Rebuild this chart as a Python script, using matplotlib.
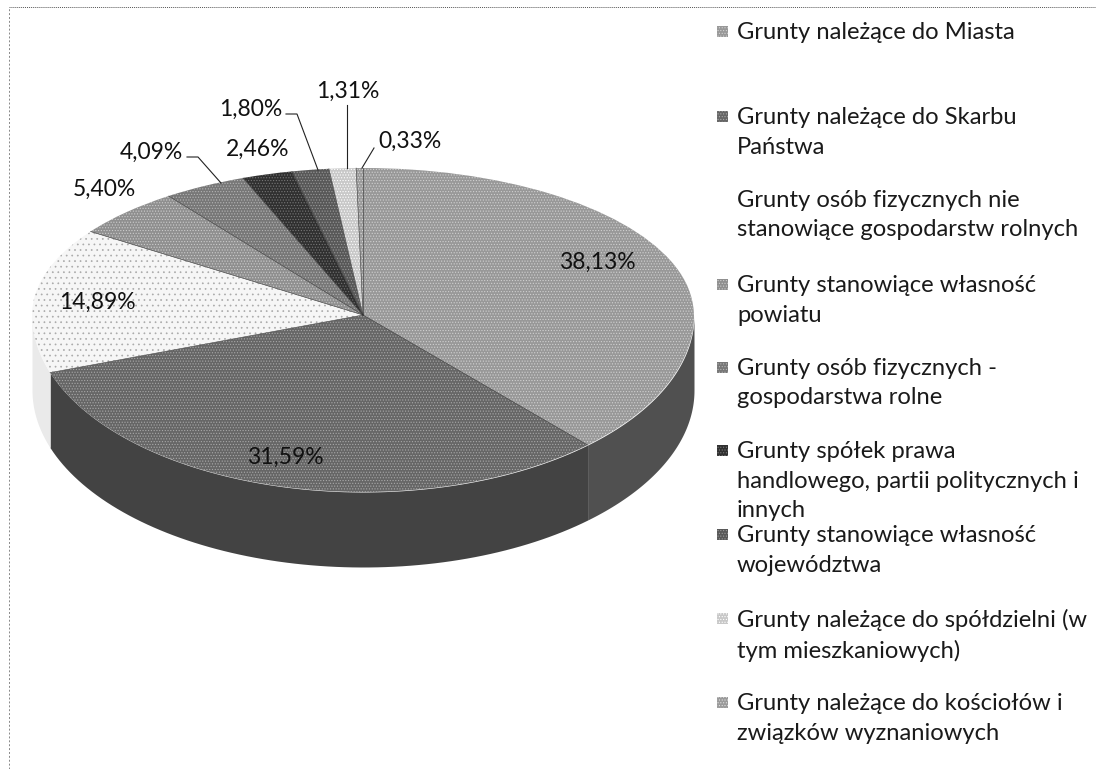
import numpy as np
import matplotlib
matplotlib.use("Agg")
import matplotlib.pyplot as plt

W, H = 1096, 769

labels_legend = [
    "Grunty należące do Miasta",
    "Grunty należące do Skarbu\nPaństwa",
    "Grunty osób fizycznych nie\nstanowiące gospodarstw rolnych",
    "Grunty stanowiące własność\npowiatu",
    "Grunty osób fizycznych -\ngospodarstwa rolne",
    "Grunty spółek prawa\nhandlowego, partii politycznych i\ninnych",
    "Grunty stanowiące własność\nwojewództwa",
    "Grunty należące do spółdzielni (w\ntym mieszkaniowych)",
    "Grunty należące do kościołów i\nzwiązków wyznaniowych",
]
values = [38.13, 31.59, 14.89, 5.40, 4.09, 2.46, 1.80, 1.31, 0.33]
value_text = ["38,13%", "31,59%", "14,89%", "5,40%", "4,09%", "2,46%", "1,80%", "1,31%", "0,33%"]
colors = ["#989898", "#666666", "#f6f6f6", "#8f8f8f", "#777777", "#303030", "#585858", "#c8c8c8", "#9a9a9a"]
wall_colors = ["#505050", "#434343", "#eaeaea"]
hatch_colors = ["#d0d0d0", "#a8a8a8", "#aaaaaa", "#cccccc", "#b5b5b5", "#777777", "#999999", "#ffffff", "#dddddd"]
hatches = ["......", "......", "...", "......", "......", "......", "......", "......", "......"]

legend_y = [31, 116, 199, 284, 367, 450, 534, 618, 702]
legend_box = [1, 1, 0, 1, 1, 1, 1, 1, 1]
label_pos = [(597, 262), (285, 457), (97, 302), (104, 189), (151, 152), (258, 149), (251, 109), (348, 91), (410, 141)]

RX, RY_TOP, RY_BOT, DEPTH = 331, 147, 177, 75
CX, CY = 363, 315

plt.rcParams["font.family"] = ["Lato", "DejaVu Sans"]
plt.rcParams["hatch.linewidth"] = 0.5

fig = plt.figure(figsize=(W / 100, H / 100), dpi=100)
ax = fig.add_axes([0, 0, 1, 1])


def forward(y):
    y = np.asarray(y, dtype=float)
    return np.where(y > 0, y * RY_TOP, y * RY_BOT)


def inverse(v):
    v = np.asarray(v, dtype=float)
    return np.where(v > 0, v / RY_TOP, v / RY_BOT)


wedges, _ = ax.pie(values, colors=colors, startangle=90, counterclock=False, radius=1,
                   center=(0, 0), frame=True, wedgeprops={"linewidth": 0}, normalize=True)
for w, h, hc in zip(wedges, hatches, hatch_colors):
    w.set_hatch(h)
    w.set_edgecolor(hc)
    w.set_linewidth(0)
    w.set_zorder(3)

ax.set_aspect("auto")
ax.set_yscale("function", functions=(forward, inverse))
ax.set_xlim((0 - CX) / RX, (W - CX) / RX)
ax.set_ylim(inverse(CY - H), inverse(CY))
ax.axis("off")

# side wall, only the front half of the rim shows
edges = np.cumsum([0] + values) / 100 * 2 * np.pi
wall_drop = DEPTH / RY_BOT
k = 0
for i in range(len(values)):
    a0 = max(edges[i], np.pi / 2)
    a1 = min(edges[i + 1], 3 * np.pi / 2)
    if a1 <= a0:
        continue
    t = np.linspace(a0, a1, 80)
    ax.fill_between(np.sin(t), np.cos(t), np.cos(t) - wall_drop, color=wall_colors[k],
                    linewidth=0, zorder=2)
    k += 1


def px(x, y):
    return (x - CX) / RX, float(inverse(CY - y))


# separator lines on the top face
for a in edges[:-1]:
    ax.plot([0, np.sin(a)], [0, np.cos(a)], color="#333333", lw=0.4, zorder=4)

for s, (x, y) in zip(value_text, label_pos):
    ax.text(*px(x, y), s, ha="center", va="center", fontsize=16.5, color="#111111", zorder=6)

# leader lines
ax.plot(*zip(px(187, 157), px(198, 157), px(221, 183)), color="#222222", lw=0.8, zorder=5)
ax.plot(*zip(px(286, 114), px(297, 114), px(318, 170)), color="#222222", lw=0.8, zorder=5)
ax.plot(*zip(px(347, 105), px(347, 168)), color="#222222", lw=0.8, zorder=5)
ax.plot(*zip(px(374, 148), px(362, 168)), color="#222222", lw=0.8, zorder=5)

# legend
for s, y, box, c, hc in zip(labels_legend, legend_y, legend_box, colors, hatch_colors):
    fig.text(737 / W, 1 - (y - 9) / H, s, ha="left", va="top", fontsize=17.1, color="#1a1a1a",
             linespacing=1.5)
    if box:
        fig.add_artist(plt.Rectangle((717 / W, 1 - (y + 6) / H), 11 / W, 11 / H, transform=fig.transFigure,
                                     facecolor=c, edgecolor=hc, hatch="......", linewidth=0))

# frame of the scanned chart
fig.add_artist(plt.Line2D([9 / W, 1], [1 - 7 / H, 1 - 7 / H], color="#555555", lw=0.7, ls=(0, (1, 1))))
fig.add_artist(plt.Line2D([9 / W, 9 / W], [0, 1 - 7 / H], color="#888888", lw=0.7, ls=(0, (2, 2))))

fig.savefig("out.png", dpi=100)
